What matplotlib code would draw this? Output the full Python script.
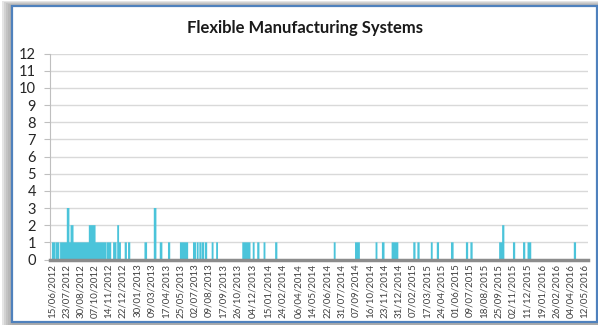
import numpy as np
import matplotlib.pyplot as plt
from matplotlib.patches import Rectangle
from datetime import datetime

# x tick labels as shown (dd/mm/yyyy)
tick_labels = [
    "15/06/2012", "23/07/2012", "30/08/2012", "07/10/2012", "14/11/2012", "22/12/2012",
    "30/01/2013", "09/03/2013", "17/04/2013", "25/05/2013", "02/07/2013", "09/08/2013",
    "17/09/2013", "26/10/2013", "04/12/2013", "15/01/2014", "24/02/2014", "06/04/2014",
    "14/05/2014", "22/06/2014", "31/07/2014", "07/09/2014", "16/10/2014", "23/11/2014",
    "31/12/2014", "07/02/2015", "17/03/2015", "24/04/2015", "01/06/2015", "09/07/2015",
    "18/08/2015", "25/09/2015", "02/11/2015", "11/12/2015", "19/01/2016", "26/02/2016",
    "04/04/2016", "12/05/2016",
]

# spans of daily counts, days counted from 15/06/2012 (start, end, value)
span_start = [0, 11, 22, 40, 50, 99, 147, 164, 175, 179, 195, 204, 248, 273, 289, 311,
              343, 378, 388, 395, 401, 410, 428, 440, 510, 538, 550, 567, 598, 755, 812,
              867, 884, 910, 968, 979, 1015, 1031, 1069, 1109, 1121, 1198, 1206, 1235,
              1262, 1274, 1398]
span_end = [9, 19, 145, 46, 57, 116, 158, 172, 179, 184, 200, 209, 254, 279, 295, 316,
            364, 385, 392, 399, 407, 415, 432, 444, 531, 542, 555, 571, 603, 759, 824,
            871, 890, 927, 973, 984, 1019, 1036, 1075, 1114, 1126, 1206, 1211, 1240,
            1267, 1283, 1403]
span_value = [1, 1, 1, 3, 2, 2, 1, 1, 2, 1, 1, 1, 1, 3, 1, 1,
              1, 1, 1, 1, 1, 1, 1, 1, 1, 1, 1, 1, 1, 1, 1,
              1, 1, 1, 1, 1, 1, 1, 1, 1, 1, 1, 2, 1,
              1, 1, 1]

start = datetime.strptime(tick_labels[0], "%d/%m/%Y")
tick_pos = [(datetime.strptime(t, "%d/%m/%Y") - start).days for t in tick_labels]
n_days = tick_pos[-1] + 1

counts = np.zeros(n_days)
for s, e, v in zip(span_start, span_end, span_value):
    counts[s:e + 1] = np.maximum(counts[s:e + 1], v)
edges = np.arange(n_days + 1)

plt.rcParams['font.family'] = ['Lato', 'DejaVu Sans']

fig = plt.figure(figsize=(5.98, 3.25), dpi=100)
W, H = 598.0, 325.0

# frame shadow + blue border
for i, a in enumerate([0.08, 0.10, 0.12, 0.14, 0.16, 0.18]):
    off = 12 - 2 * i
    fig.patches.append(Rectangle((off / W, 0), 1, 1 - (6 - i) / H, transform=fig.transFigure,
                                 facecolor='#707070', alpha=a, edgecolor='none', zorder=0))
fig.patches.append(Rectangle((12 / W, 3 / H), (597 - 12) / W, (319 - 3) / H,
                             transform=fig.transFigure, facecolor='white',
                             edgecolor='#4F81BD', linewidth=1.6, zorder=1))

ax = fig.add_axes([50 / W, 1 - 259.5 / H, (588 - 50) / W, (259.5 - 53.5) / H])
ax.set_zorder(2)
ax.patch.set_alpha(0)

ax.stairs(counts, edges, fill=True, color='#4BC4DA', linewidth=0, zorder=2)

ax.set_ylim(0, 12)
ax.set_yticks(range(0, 13))
ax.set_xlim(-5, 1436)
ax.set_xticks(tick_pos)
ax.set_xticklabels(tick_labels, rotation=90, fontsize=7, color='#404040')
ax.tick_params(axis='x', length=0, pad=3)
ax.tick_params(axis='y', length=4, color='#BFBFBF', labelsize=10.5, labelcolor='#262626', pad=6)
ax.yaxis.grid(True, color='#D9D9D9', linewidth=1)
ax.set_axisbelow(True)

for side in ['top', 'right']:
    ax.spines[side].set_visible(False)
ax.spines['left'].set_color('#BFBFBF')
ax.spines['bottom'].set_color('#8C8C8C')
ax.spines['bottom'].set_linewidth(2.5)
ax.spines['bottom'].set_zorder(3)

fig.text(305 / W, 1 - 28 / H, "Flexible Manufacturing Systems", ha='center', va='center',
         fontsize=12, fontweight='bold', color='#1a1a1a')

fig.savefig("out.png", dpi=100)
